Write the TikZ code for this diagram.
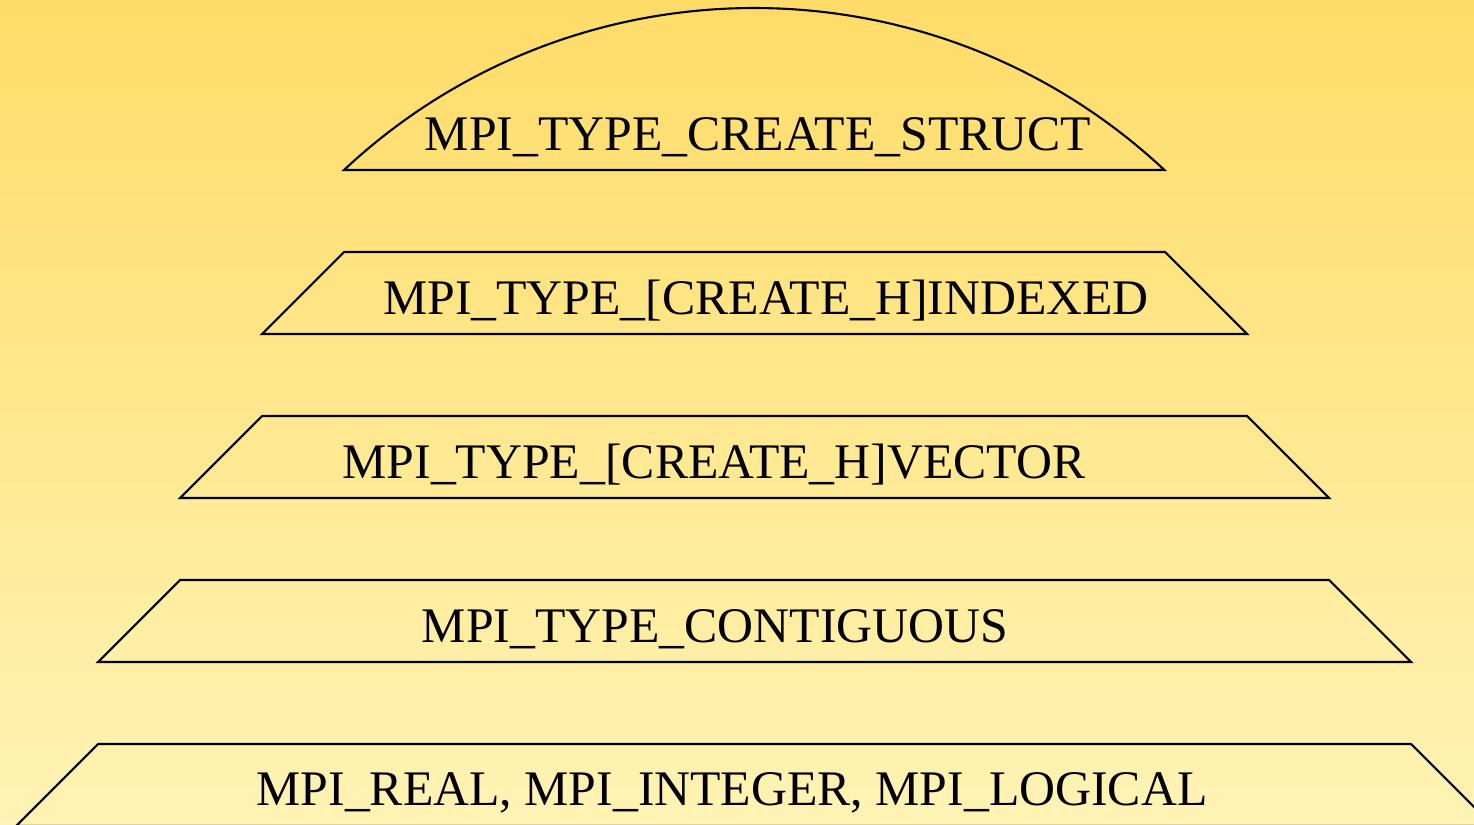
\documentclass[tikz,border=0pt]{standalone}
\usepackage{fontspec}
\setmainfont{Liberation Serif}
\definecolor{bgtop}{RGB}{255,220,104}
\definecolor{bgbottom}{RGB}{255,243,181}

\begin{document}
\begin{tikzpicture}[x=0.01cm,y=-0.01cm,
  layer/.style={draw=black,line width=0.6pt,line join=miter},
  typename/.style={anchor=base,inner sep=0pt,font=\fontsize{14.15}{17}\selectfont}]
\shade[top color=bgtop,bottom color=bgbottom] (0,0) rectangle (1474,824);
\useasboundingbox (0,0) rectangle (1474,824);
\clip (0,0) rectangle (1474,824);
\coordinate (archL) at (344,170);
\coordinate (archR) at (1165,170);
\draw[layer] (archL) arc[start angle=133.1,end angle=46.9,radius=6cm] -- (archL) -- cycle;
\foreach \i in {0,...,3}{
  \draw[layer] (344-82*\i,252+164*\i) -- (1165+82*\i,252+164*\i)
    -- (1247+82*\i,334+164*\i) -- (262-82*\i,334+164*\i) -- cycle;
}
\node[typename] (struct) at (758,150) {MPI\_TYPE\_CREATE\_STRUCT};
\node[typename] (indexed) at (766,314) {MPI\_TYPE\_[CREATE\_H]INDEXED};
\node[typename] (vector) at (714,478) {MPI\_TYPE\_[CREATE\_H]VECTOR};
\node[typename] (contig) at (715,642) {MPI\_TYPE\_CONTIGUOUS};
\node[typename] (basic) at (732,805) {MPI\_REAL, MPI\_INTEGER, MPI\_LOGICAL};
\end{tikzpicture}
\end{document}
